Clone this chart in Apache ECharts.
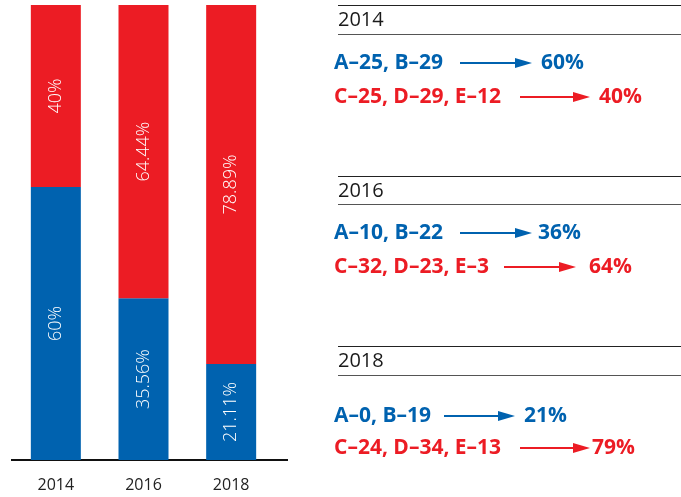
<!DOCTYPE html>
<html>
<head>
<meta charset="utf-8">
<script src="https://cdn.jsdelivr.net/npm/echarts@6/dist/echarts.min.js"></script>
<style>
  html, body { margin: 0; padding: 0; background: #fff; }
  #chart { width: 681px; height: 497px; }
</style>
</head>
<body>
<div id="chart"></div>
<script>
const years = ['2014', '2016', '2018']
const bluePct = [60, 35.56, 21.11]
const redPct = [40, 64.44, 78.89]
const blueNotes = ['A–25, B–29', 'A–10, B–22', 'A–0, B–19']
const redNotes = ['C–25, D–29, E–12', 'C–32, D–23, E–3', 'C–24, D–34, E–13']
const blueShare = ['60%', '36%', '21%']
const redShare = ['40%', '64%', '79%']

const BLUE = '#0062AF'
const RED = '#EC1C24'
const FONT = '"Open Sans", "Noto Sans", sans-serif'

// right-hand notes layout (per block)
const blockTop = [5, 176, 346]
const blockHead = [34, 204, 375]
const blueRowY = [63, 233, 416]
const redRowY = [97, 267, 448]
const blueArrow = [[460, 532], [460, 532], [444, 515]]
const redArrow = [[520, 590], [504, 576], [520, 590]]
const blueShareX = [541, 538, 524]
const redShareX = [599, 589, 592]

const chart = echarts.init(document.getElementById('chart'))

const arrow = (x1, x2, y, color) => [
  { type: 'line', shape: { x1: x1, y1: y, x2: x2 - 12, y2: y }, style: { stroke: color, lineWidth: 2 } },
  { type: 'polygon', shape: { points: [[x2 - 17, y - 5], [x2, y], [x2 - 17, y + 5]] }, style: { fill: color } }
]

const graphics = [
  { type: 'line', shape: { x1: 11, y1: 460, x2: 288, y2: 460 }, style: { stroke: '#111', lineWidth: 2 } }
]

const noteFont = 'bold 21px ' + FONT

years.forEach((yr, i) => {
  graphics.push(
    { type: 'line', shape: { x1: 338, y1: blockTop[i] + 0.5, x2: 681, y2: blockTop[i] + 0.5 }, style: { stroke: '#222', lineWidth: 1 } },
    { type: 'line', shape: { x1: 338, y1: blockHead[i] + 0.5, x2: 681, y2: blockHead[i] + 0.5 }, style: { stroke: '#555', lineWidth: 1 } },
    { type: 'text', x: 338, y: (blockTop[i] + blockHead[i]) / 2 + 1, style: { text: yr, font: '20px ' + FONT, fill: '#1a1a1a', verticalAlign: 'middle' } },
    { type: 'text', x: 334, y: blueRowY[i], style: { text: blueNotes[i], font: noteFont, fill: BLUE, verticalAlign: 'middle' } },
    { type: 'text', x: blueShareX[i], y: blueRowY[i], style: { text: blueShare[i], font: noteFont, fill: BLUE, verticalAlign: 'middle' } },
    { type: 'text', x: 334, y: redRowY[i], style: { text: redNotes[i], font: noteFont, fill: RED, verticalAlign: 'middle' } },
    { type: 'text', x: redShareX[i], y: redRowY[i], style: { text: redShare[i], font: noteFont, fill: RED, verticalAlign: 'middle' } },
    ...arrow(blueArrow[i][0], blueArrow[i][1], blueRowY[i], BLUE),
    ...arrow(redArrow[i][0], redArrow[i][1], redRowY[i], RED)
  )
})

const barLabel = {
  show: true,
  position: 'inside',
  rotate: 90,
  color: '#fff',
  fontSize: 18,
  fontWeight: 300,
  fontFamily: FONT,
  formatter: p => p.value + '%'
}

chart.setOption({
  animation: false,
  grid: { left: 12, right: 406, top: 5, bottom: 37 },
  xAxis: {
    type: 'category',
    data: years,
    axisLine: { show: false },
    axisTick: { show: false },
    axisLabel: { color: '#222', fontSize: 16, fontFamily: FONT, margin: 17 }
  },
  yAxis: { type: 'value', min: 0, max: 100, show: false },
  series: [
    { type: 'bar', stack: 'total', data: bluePct, barWidth: 50, itemStyle: { color: BLUE }, label: barLabel },
    { type: 'bar', stack: 'total', data: redPct, barWidth: 50, itemStyle: { color: RED }, label: barLabel }
  ],
  graphic: graphics
})
</script>
</body>
</html>
